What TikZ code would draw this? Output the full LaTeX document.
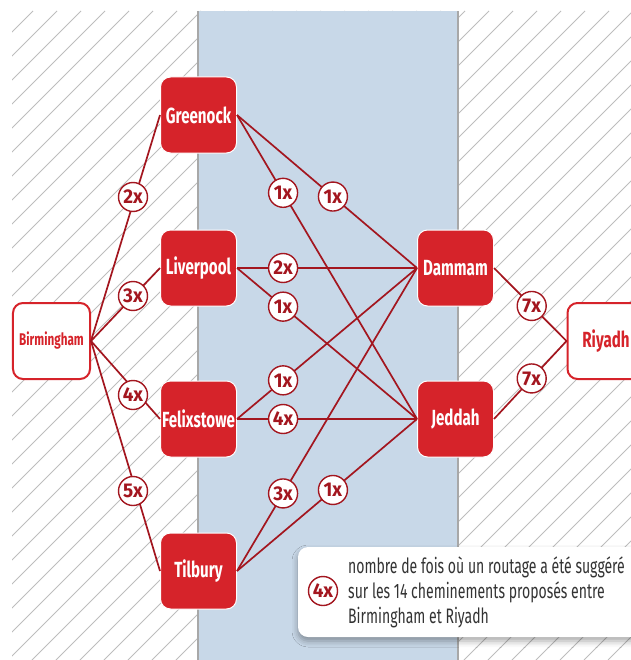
\documentclass[tikz,border=0pt]{standalone}
\usepackage{fontspec}
\setmainfont{Fira Sans}[FakeStretch=0.69]
\newfontfamily\labfont{Fira Sans}[FakeStretch=0.95]
\newfontfamily\legfont{Fira Sans}[FakeStretch=0.67]
\usetikzlibrary{shadows.blur}
\definecolor{portred}{HTML}{D6232A}
\definecolor{linered}{HTML}{A3161F}
\definecolor{bluebg}{HTML}{C8D8E8}
\definecolor{hatchgray}{HTML}{BDBDBD}
\definecolor{divgray}{HTML}{A8A8A8}
\definecolor{legtext}{HTML}{333333}
\begin{document}
\begin{tikzpicture}[x=1bp,y=-1bp,
  port/.style={rounded corners=10bp, fill=portred, draw=white, line width=1bp,
    minimum width=76bp, minimum height=76bp, inner sep=0pt, text=white,
    font=\fontsize{22}{22}\selectfont\bfseries},
  city/.style={rounded corners=10bp, fill=white, draw=portred, line width=2bp,
    minimum width=77bp, minimum height=76bp, inner sep=0pt, text=portred,
    font=\fontsize{17}{17}\selectfont\bfseries},
  route/.style={draw=linered, line width=1.7bp},
  cnt/.style={circle, fill=white, draw=linered, line width=1.4bp, minimum size=29bp,
    inner sep=0pt, text=linered, font=\labfont\fontsize{20}{20}\selectfont\bfseries},
  hatch/.style={draw=hatchgray, line width=0.8bp},
  divider/.style={draw=divgray, line width=1.6bp}
]
\useasboundingbox (0,0) rectangle (631,660);
% background
\begin{scope}
  \clip (12,11) rectangle (631,660);
  \foreach \c in {44,68,...,1316} {
    \draw[hatch] ({\c-11},11) -- ({\c-660},660);
  }
\end{scope}
\fill[bluebg] (198,11) rectangle (458,660);
\draw[divider] (198,11) -- (198,660);
\draw[divider] (458,11) -- (458,660);

% nodes
\node[port] (gre) at (198.5,115) {Greenock};
\node[port] (liv) at (198.5,268) {Liverpool};
\node[port] (fel) at (198.5,419) {Felixstowe};
\node[port] (til) at (198.5,571) {Tilbury};
\node[port] (dam) at (455.5,268) {Dammam};
\node[port] (jed) at (455.5,419) {Jeddah};
\node[city] (bir) at (51.5,341) {Birmingham};
\node[city, font=\fontsize{22}{22}\selectfont\bfseries] (riy) at (606,341) {Riyadh};

% routes
\draw[route] (bir.east) -- (gre.west);
\draw[route] (bir.east) -- (liv.west);
\draw[route] (bir.east) -- (fel.west);
\draw[route] (bir.east) -- (til.west);
\draw[route] (gre.east) -- coordinate[pos=.256] (gj) (jed.west);
\draw[route] (gre.east) -- coordinate[pos=.533] (gd) (dam.west);
\draw[route] (liv.east) -- coordinate[pos=.256] (ld) (dam.west);
\draw[route] (liv.east) -- coordinate[pos=.256] (lj) (jed.west);
\draw[route] (fel.east) -- coordinate[pos=.256] (fd) (dam.west);
\draw[route] (fel.east) -- coordinate[pos=.256] (fj) (jed.west);
\draw[route] (til.east) -- coordinate[pos=.256] (td) (dam.west);
\draw[route] (til.east) -- coordinate[pos=.533] (tj) (jed.west);
\draw[route] (dam.east) -- coordinate[pos=.52] (dr) (riy.west);
\draw[route] (jed.east) -- coordinate[pos=.52] (jr) (riy.west);

% counts
\node[cnt] (c1) at (133,197) {2x};
\node[cnt] (c2) at (133,296) {3x};
\node[cnt] (c3) at (133,395) {4x};
\node[cnt] (c4) at (133,491) {5x};
\node[cnt] (c5) at (gj) {1x};
\node[cnt] (c6) at (gd) {1x};
\node[cnt] (c7) at (ld) {2x};
\node[cnt] (c8) at (lj) {1x};
\node[cnt] (c9) at (fd) {1x};
\node[cnt] (c10) at (fj) {4x};
\node[cnt] (c11) at (td) {3x};
\node[cnt] (c12) at (tj) {1x};
\node[cnt] (c13) at (dr) {7x};
\node[cnt] (c14) at (jr) {7x};

% legend
\node[rounded corners=10bp, fill=white, minimum width=347bp, minimum height=90bp, inner sep=0pt,
  blur shadow={shadow xshift=0bp, shadow yshift=-4bp, shadow blur radius=6bp, shadow opacity=35}]
  (leg) at (471.5,592) {};
\node[cnt] (legc) at (323,591) {4x};
\node[anchor=west, align=left, inner sep=0pt, text=legtext,
  font=\legfont\fontsize{21}{25}\selectfont] (legt) at (348,592)
  {nombre de fois où un routage a été suggéré\\sur les 14 cheminements proposés entre\\Birmingham et Riyadh};
\end{tikzpicture}
\end{document}
